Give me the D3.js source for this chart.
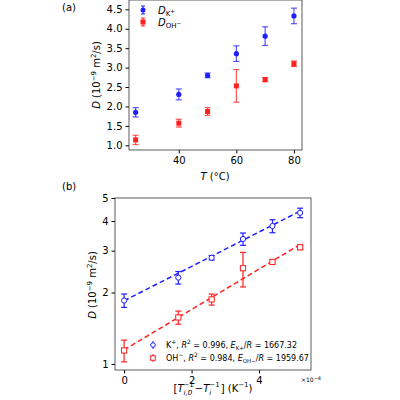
<!DOCTYPE html><html><head><script src="https://cdn.jsdelivr.net/npm/d3@7"></script>
<style>body{margin:0;background:#fff}text{font-family:"DejaVu Sans",sans-serif}</style></head><body>
<svg id="c" width="400" height="400"></svg>
<script>
const temps=[25,40,50,60,70,80];
const dK=[1.85,2.31,2.80,3.36,3.81,4.33];
const eK=[0.12,0.14,0.06,0.20,0.24,0.20];
const dOH=[1.14,1.57,1.87,2.53,2.69,3.10];
const eOH=[0.12,0.10,0.10,0.42,0.05,0.07];
const invT=[0,1.607,2.595,3.524,4.397,5.217]; // ×1e-4 K^-1
const fitK={d0:1.845,slope:1667.32,r2:0.996};
const fitOH={d0:1.146,slope:1959.67,r2:0.984};
const blue="#1f1fff",red="#ff2020";
const svg=d3.select("#c");
function frame(g,x,y){g.append("rect").attr("x",x.range()[0]).attr("y",y.range()[1]).attr("width",x.range()[1]-x.range()[0]).attr("height",y.range()[0]-y.range()[1]).attr("fill","none").attr("stroke","#333").attr("stroke-width",0.8);}
function style(a){a.selectAll("text").attr("font-size",10).attr("fill","#000");a.select(".domain").remove();a.selectAll("line").attr("stroke","#000");}
const xa=d3.scaleLinear().domain([22.7,82.8]).range([129,302]);
const ya=d3.scaleLinear().domain([0.88,4.74]).range([150,0]);
const ga=svg.append("g");
ga.append("g").attr("transform","translate(0,150)").call(d3.axisBottom(xa).tickValues([40,60,80]).tickSize(3.5)).call(style);
ga.append("g").attr("transform","translate(129,0)").call(d3.axisLeft(ya).tickValues([1,1.5,2,2.5,3,3.5,4,4.5]).tickFormat(d3.format(".1f")).tickSize(3.5)).call(style);
frame(ga,xa,ya);
function errs(g,xs,ys,es,x,y,c,op){
 xs.forEach((xv,i)=>{const px=x(xv);g.append("line").attr("x1",px).attr("x2",px).attr("y1",y(ys[i]-es[i])).attr("y2",y(ys[i]+es[i])).attr("stroke",c).attr("stroke-width",1.2).attr("opacity",op);
 [ys[i]-es[i],ys[i]+es[i]].forEach(v=>g.append("line").attr("x1",px-3).attr("x2",px+3).attr("y1",y(v)).attr("y2",y(v)).attr("stroke",c).attr("stroke-width",1.2).attr("opacity",op));});
}
errs(ga,temps,dK,eK,xa,ya,blue,0.75);errs(ga,temps,dOH,eOH,xa,ya,red,0.75);
temps.forEach((t,i)=>{ga.append("circle").attr("cx",xa(t)).attr("cy",ya(dK[i])).attr("r",2.6).attr("fill",blue);
 ga.append("rect").attr("x",xa(t)-2.5).attr("y",ya(dOH[i])-2.5).attr("width",5).attr("height",5).attr("fill",red);});
[[blue,"circle",10,"K","+"],[red,"rect",22,"OH","−"]].forEach(([c,s,yy,sub,sup])=>{
 ga.append("line").attr("x1",143).attr("x2",143).attr("y1",yy-4).attr("y2",yy+4).attr("stroke",c);
 ga.append("line").attr("x1",141).attr("x2",145).attr("y1",yy-4).attr("y2",yy-4).attr("stroke",c);
 ga.append("line").attr("x1",141).attr("x2",145).attr("y1",yy+4).attr("y2",yy+4).attr("stroke",c);
 if(s=="circle")ga.append("circle").attr("cx",143).attr("cy",yy).attr("r",2.5).attr("fill",c);else ga.append("rect").attr("x",140.5).attr("y",yy-2.5).attr("width",5).attr("height",5).attr("fill",c);
 const t=ga.append("text").attr("x",158).attr("y",yy+3.5).attr("font-size",10);
 t.append("tspan").attr("font-style","italic").text("D");
 t.append("tspan").attr("font-size",7).attr("dy",2).text(sub);
 t.append("tspan").attr("font-size",5.5).attr("dy",-2.5).text(sup);
});
svg.append("text").attr("x",215).attr("y",180).attr("text-anchor","middle").attr("font-size",10).html('<tspan font-style="italic">T</tspan> (°C)');
const ylab='<tspan font-style="italic">D</tspan> (10<tspan font-size="7" dy="-4">−9</tspan><tspan dy="4"> m</tspan><tspan font-size="7" dy="-4">2</tspan><tspan dy="4">/s)</tspan>';
svg.append("text").attr("transform","translate(100,75) rotate(-90)").attr("text-anchor","middle").attr("font-size",10).html(ylab);
svg.append("text").attr("x",62).attr("y",11).attr("font-size",10).text("(a)");
svg.append("text").attr("x",62).attr("y",190).attr("font-size",10).text("(b)");
const xb=d3.scaleLinear().domain([-0.27,5.54]).range([115,311]);
const yb=d3.scaleLog().domain([0.943,5.0]).range([370,198]);
const gb=svg.append("g");
gb.append("g").attr("transform","translate(0,370)").call(d3.axisBottom(xb).tickValues([0,2,4]).tickFormat(d3.format("d")).tickSize(3.5)).call(style);
gb.append("g").attr("transform","translate(115,0)").call(d3.axisLeft(yb).tickValues([1,2,3,4,5]).tickFormat(d3.format("d")).tickSize(3.5)).call(style);
frame(gb,xb,yb);
[[fitK,blue,5.25],[fitOH,red,5.3]].forEach(([f,c,xe])=>{
 const ln=d3.line().x(d=>xb(d)).y(d=>yb(f.d0*Math.exp(f.slope*d*1e-4)));
 gb.append("path").attr("d",ln([0,xe])).attr("stroke",c).attr("stroke-width",1.5).attr("stroke-dasharray","5,3").attr("fill","none");
});
function errsLog(g,ys,es,c){invT.forEach((xv,i)=>{const px=xb(xv);
 g.append("line").attr("x1",px).attr("x2",px).attr("y1",yb(ys[i]-es[i])).attr("y2",yb(ys[i]+es[i])).attr("stroke",c).attr("stroke-width",1.2);
 [ys[i]-es[i],ys[i]+es[i]].forEach(v=>g.append("line").attr("x1",px-3).attr("x2",px+3).attr("y1",yb(v)).attr("y2",yb(v)).attr("stroke",c).attr("stroke-width",1.2));});}
errsLog(gb,dK,eK,blue);errsLog(gb,dOH,eOH,red);
invT.forEach((xv,i)=>{gb.append("circle").attr("cx",xb(xv)).attr("cy",yb(dK[i])).attr("r",2.6).attr("fill","#fff").attr("stroke",blue);
 gb.append("rect").attr("x",xb(xv)-2.6).attr("y",yb(dOH[i])-2.6).attr("width",5.2).attr("height",5.2).attr("fill","#fff").attr("stroke",red);});
[[blue,"c",345,"K",'<tspan font-size="6" dy="-4">+</tspan><tspan dy="4">, </tspan>',fitK,"K","+"],[red,"r",358,"OH",'<tspan font-size="6" dy="-4">−</tspan><tspan dy="4">, </tspan>',fitOH,"OH","−"]].forEach(([c,s,yy,nm,sp,f,sub,sup])=>{
 gb.append("line").attr("x1",153).attr("x2",153).attr("y1",yy-4).attr("y2",yy+4).attr("stroke",c);
 if(s=="c")gb.append("circle").attr("cx",153).attr("cy",yy).attr("r",2.3).attr("fill","#fff").attr("stroke",c);else gb.append("rect").attr("x",150.7).attr("y",yy-2.3).attr("width",4.6).attr("height",4.6).attr("fill","#fff").attr("stroke",c);
 gb.append("text").attr("x",166).attr("y",yy+3).attr("font-size",8).html(nm+sp+'<tspan font-style="italic">R</tspan><tspan font-size="6" dy="-4">2</tspan><tspan dy="4"> = </tspan>'+f.r2+', <tspan font-style="italic">E</tspan><tspan font-size="5.5" dy="2">'+sub+sup+'</tspan><tspan dy="-2">/</tspan><tspan font-style="italic">R</tspan> = '+f.slope.toFixed(2));
});
// x label b, built piecewise
(function(){
 const y0=392; let x=163; const g=svg.append("g");
 function put(txt,size,dy,it){const t=g.append("text").attr("x",x).attr("y",y0+dy).attr("font-size",size).attr("font-style",it?"italic":null).text(txt);return t.node().getComputedTextLength();}
 x+=put("[",10,0);x+=put("T",10,0,1);
 let w1=put("−1",7,-5);let w2=put("i,0",7,3,1);x+=Math.max(w1,w2)+1;
 x+=put(" − ",10,0);x+=put("T",10,0,1);
 w1=put("−1",7,-5);w2=put("i",7,3,1);x+=Math.max(w1,w2)+1;
 x+=put("] (K",10,0);x+=put("−1",7,-5);put(")",10,0);
 const tot=x+4-163; g.attr("transform","translate("+(213-tot/2-163+ (163-163))+",0)");
 g.attr("transform","translate("+(213-(163+tot/2))+",0)");
})();
svg.append("text").attr("x",301).attr("y",382).attr("font-size",6).html('×10<tspan font-size="5" dy="-2">−4</tspan>');
svg.append("text").attr("transform","translate(96,285) rotate(-90)").attr("text-anchor","middle").attr("font-size",10).html(ylab);
</script></body></html>
